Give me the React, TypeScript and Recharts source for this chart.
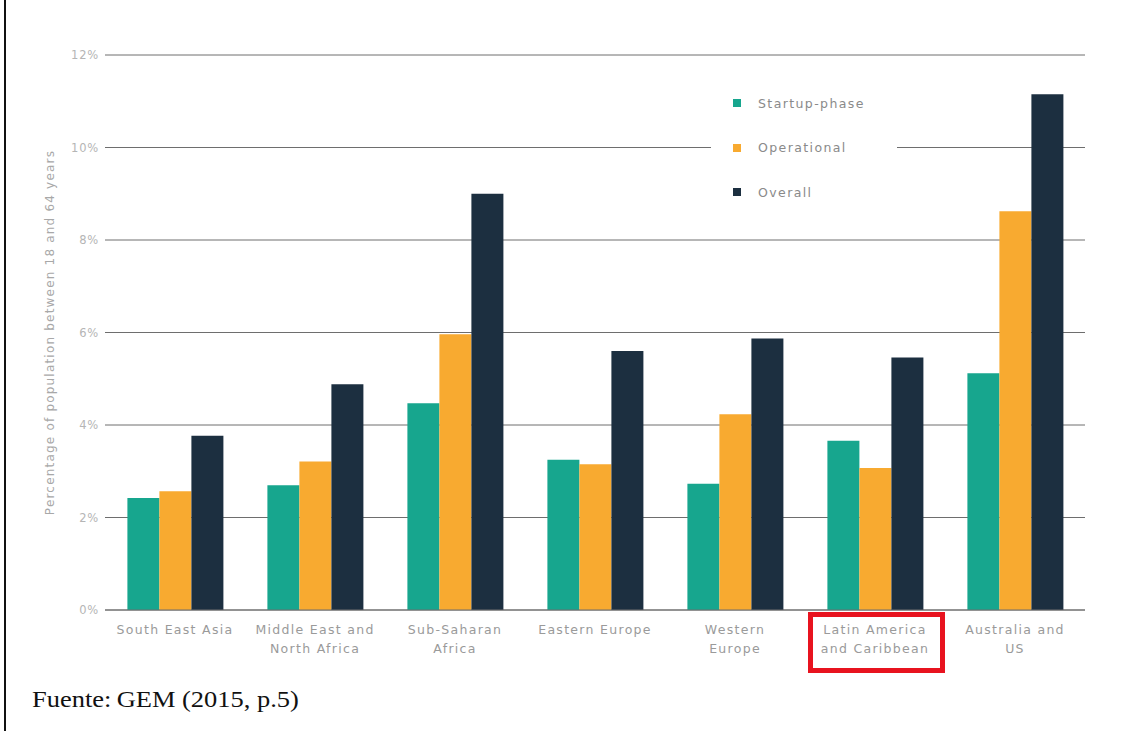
import { BarChart, Bar, XAxis, YAxis, CartesianGrid, Legend } from 'recharts'

// regions and values (% of population 18-64)
const regions = [
    'South East Asia',
    'Middle East and\nNorth Africa',
    'Sub-Saharan\nAfrica',
    'Eastern Europe',
    'Western\nEurope',
    'Latin America\nand Caribbean',
    'Australia and\nUS',
]
const startupPhase = [2.42, 2.7, 4.47, 3.25, 2.73, 3.66, 5.12]
const operational = [2.57, 3.21, 5.96, 3.15, 4.23, 3.07, 8.62]
const overall = [3.77, 4.88, 9.0, 5.6, 5.87, 5.46, 11.15]
const yTicks = [0, 2, 4, 6, 8, 10, 12]
const highlighted = 'Latin America\nand Caribbean'

const COLORS = { startup: '#17a68e', operational: '#f8aa30', overall: '#1c2f40' }
const FONT = '"DejaVu Sans", sans-serif'

const data = regions.map((region, i) => ({
    region,
    startup: startupPhase[i],
    operational: operational[i],
    overall: overall[i],
}))

function RegionTick(props: any) {
    const { x, y, payload } = props
    const lines = String(payload.value).split('\n')
    return (
        <g transform={`translate(${x},${y})`}>
            {payload.value === highlighted && (
                <rect x={-64.5} y={4.5} width={132} height={56} fill="none" stroke="#e8131f" strokeWidth={5} />
            )}
            {lines.map((line, i) => (
                <text
                    key={i}
                    x={0}
                    y={24 + i * 19}
                    textAnchor="middle"
                    fill="#9a9a9a"
                    fontSize={12.5}
                    letterSpacing={1.3}
                    fontFamily={FONT}
                >
                    {line}
                </text>
            ))}
        </g>
    )
}

function LegendBox() {
    const items = [
        { name: 'Startup-phase', color: COLORS.startup },
        { name: 'Operational', color: COLORS.operational },
        { name: 'Overall', color: COLORS.overall },
    ]
    return (
        <div style={{ background: '#fff', width: 186, height: 130, position: 'relative' }}>
            {items.map((it, i) => (
                <div
                    key={it.name}
                    style={{
                        position: 'absolute',
                        left: 22,
                        top: 12 + i * 44.5,
                        display: 'flex',
                        alignItems: 'center',
                        height: 20,
                    }}
                >
                    <span style={{ width: 8, height: 8, background: it.color, display: 'inline-block' }} />
                    <span
                        style={{
                            marginLeft: 17,
                            fontFamily: FONT,
                            fontSize: 12.5,
                            letterSpacing: 1.4,
                            color: '#8a8a8a',
                        }}
                    >
                        {it.name}
                    </span>
                </div>
            ))}
        </div>
    )
}

export default function App() {
    return (
        <div
            style={{
                position: 'absolute',
                left: 0,
                top: 0,
                width: 1132,
                height: 731,
                background: '#fff',
                overflow: 'hidden',
            }}
        >
            <div style={{ position: 'absolute', left: 4, top: 0, width: 2, height: 731, background: '#111' }} />
            <BarChart
                width={1132}
                height={690}
                data={data}
                margin={{ top: 55, right: 47, left: 45, bottom: 20 }}
                barCategoryGap="16%"
                barGap={0}
            >
                <CartesianGrid vertical={false} stroke="#6e6e6e" />
                <XAxis
                    dataKey="region"
                    interval={0}
                    height={60}
                    tickLine={false}
                    tickSize={0}
                    tickMargin={0}
                    axisLine={{ stroke: '#6e6e6e' }}
                    tick={<RegionTick />}
                />
                <YAxis
                    width={60}
                    domain={[0, 12]}
                    ticks={yTicks}
                    axisLine={false}
                    tickLine={false}
                    tickSize={0}
                    tickMargin={6}
                    tickFormatter={(v: number) => `${v}%`}
                    tick={{ fill: '#b5b5b5', fontSize: 11.5, fontFamily: FONT, letterSpacing: 0.8 }}
                    label={{
                        value: 'Percentage of population between 18 and 64 years',
                        angle: -90,
                        position: 'insideLeft',
                        offset: 5,
                        style: { textAnchor: 'middle', fill: '#a8a8a8', fontSize: 12, fontFamily: FONT, letterSpacing: 1.2 },
                    }}
                />
                <Legend
                    layout="horizontal"
                    verticalAlign="middle"
                    align="center"
                    wrapperStyle={{ left: 711, top: 81, width: 186 }}
                    content={() => <LegendBox />}
                />
                <Bar dataKey="startup" name="Startup-phase" fill={COLORS.startup} isAnimationActive={false} />
                <Bar dataKey="operational" name="Operational" fill={COLORS.operational} isAnimationActive={false} />
                <Bar dataKey="overall" name="Overall" fill={COLORS.overall} isAnimationActive={false} />
            </BarChart>
            <div
                style={{
                    position: 'absolute',
                    left: 32,
                    top: 687,
                    fontFamily: '"Liberation Serif", serif',
                    fontSize: 23,
                    color: '#111',
                    whiteSpace: 'pre',
                    transform: 'scaleX(1.15)',
                    transformOrigin: 'left top',
                }}
            >
                {'Fuente:\u2009GEM (2015, p.5)'}
            </div>
        </div>
    )
}
